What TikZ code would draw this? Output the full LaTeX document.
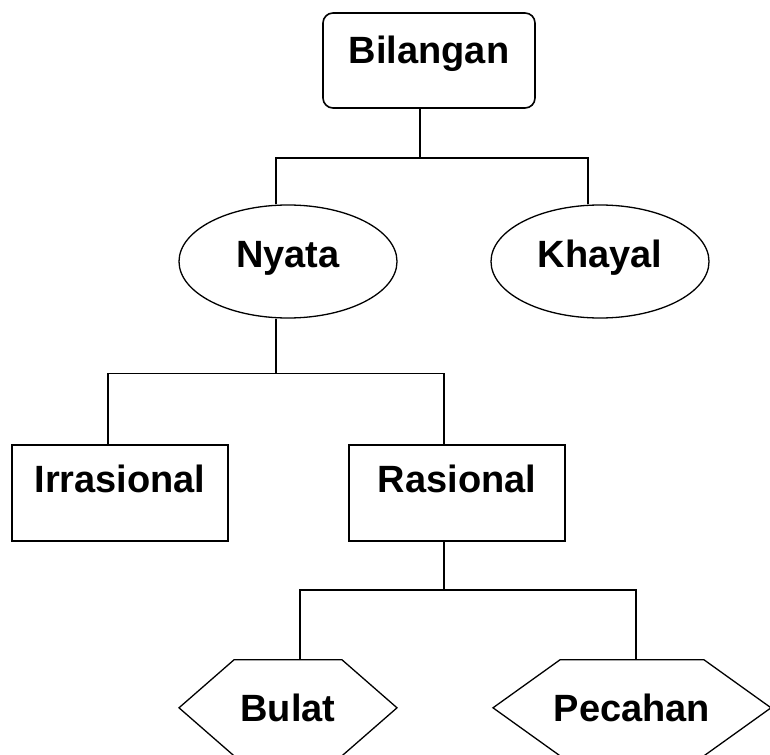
\documentclass[tikz,border=0pt]{standalone}
\usepackage{fontspec}
\setmainfont{Liberation Sans}
\usetikzlibrary{shapes.geometric, positioning}

\begin{document}
\begin{tikzpicture}[x=1pt, y=-1pt,
    every node/.style={font=\fontsize{38}{44}\selectfont\bfseries, text height=28pt},
    rootbox/.style={draw, line width=1.6pt, rounded corners=10pt, minimum width=212pt, minimum height=95pt, text depth=21.8pt},
    oval/.style={draw, ellipse, line width=1.3pt, minimum width=218pt, minimum height=113pt, text depth=16.8pt},
    box/.style={draw, line width=1.6pt, minimum width=216pt, minimum height=96pt, text depth=28.8pt},
    hexa/.style={inner xsep=0pt, minimum height=96pt, text depth=0.8pt},
    hexline/.style={line width=1.3pt, line join=miter},
    link/.style={line width=1.6pt}]
    \useasboundingbox (0,0) rectangle (770,754);

    % Place the nodes
    \node[rootbox] (bilangan) at (429,60.5) {Bilangan};
    \node[oval] (nyata) at (288,261.5) {Nyata};
    \node[oval] (khayal) at (600,261.5) {Khayal};
    \node[box] (irrasional) at (120,493) {Irrasional};
    \node[box] (rasional) at (457,493) {Rasional};
    \node[hexa] (bulat) at (288,708) {Bulat};
    \node[hexa] (pecahan) at (632,708) {Pecahan};

    % Hexagon outlines
    \foreach \n/\f/\s in {bulat/54/55, pecahan/72/67}
        \draw[hexline] (\n.north) ++(-\f,0) -- ++({2*\f},0) -- ++(\s,48) -- ++(-\s,48)
            -- ++({-2*\f},0) -- ++(-\s,-48) -- cycle;

    % Tree connectors
    \draw[link] ([xshift=-9pt]bilangan.south) -- ++(0,49) -| ([xshift=-12pt]nyata.north);
    \draw[link] ([xshift=-9pt]bilangan.south) -- ++(0,49) -| ([xshift=-12pt]khayal.north);
    \draw[link] ([xshift=-12pt]nyata.south) -- ++(0,55) -| ([xshift=-12pt]irrasional.north);
    \draw[link] ([xshift=-12pt]nyata.south) -- ++(0,55) -| ([xshift=-13pt]rasional.north);
    \draw[link] ([xshift=-13pt]rasional.south) -- ++(0,48) -| ([xshift=12pt]bulat.north);
    \draw[link] ([xshift=-13pt]rasional.south) -- ++(0,48) -| ([xshift=4pt]pecahan.north);
\end{tikzpicture}
\end{document}
